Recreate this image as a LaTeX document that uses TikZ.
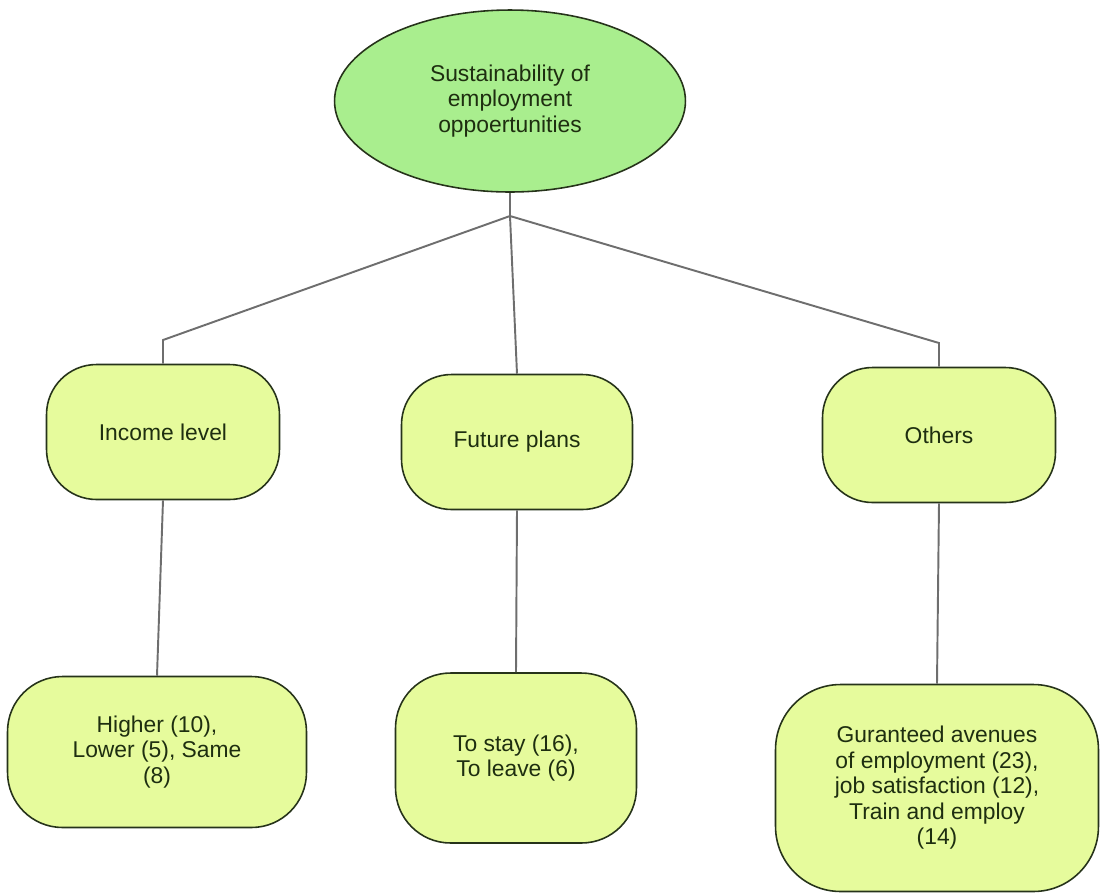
\documentclass[tikz,border=0pt]{standalone}
\usepackage{fontspec}
\setmainfont{Liberation Sans}
\usepackage{xcolor}
\usepackage{tikz}
\usetikzlibrary{shapes.geometric}

\definecolor{topgreen}{HTML}{A9EE8E}
\definecolor{boxlime}{HTML}{E6FB9C}
\definecolor{edgedark}{HTML}{26331A}
\definecolor{textdark}{HTML}{1E2E10}
\definecolor{linkgray}{HTML}{6E6E6E}

\begin{document}
\begin{tikzpicture}[
    x=0.02cm,
    y=-0.02cm,
    every node/.style={
        font=\fontsize{13}{14.5}\selectfont,
        align=center,
        text=textdark
    },
    topic/.style={
        ellipse,
        draw=edgedark,
        fill=topgreen,
        line width=0.9pt,
        minimum width=7.02cm,
        minimum height=3.64cm,
        inner sep=0pt
    },
    branch/.style={
        rectangle,
        draw=edgedark,
        fill=boxlime,
        line width=0.9pt,
        rounded corners=1cm,
        minimum width=4.66cm,
        minimum height=2.7cm,
        inner sep=2pt
    },
    link/.style={
        draw=linkgray,
        line width=1.1pt
    }
]

\useasboundingbox (0,0) rectangle (1100,894);

\node[topic] (sustain) at (510,101)
    {Sustainability of\\
    employment\\
    oppoertunities};

\node[branch] (income) at (163,432) {Income level};
\node[branch, minimum width=4.62cm] (future) at (517,442) {Future plans};
\node[branch] (others) at (939,435) {Others};

\node[branch, rounded corners=1.1cm, minimum width=5.98cm, minimum height=3.02cm] (incomeval) at (157,752)
    {Higher (10),\\
    Lower (5), Same\\
    (8)};

\node[branch, rounded corners=1.1cm, minimum width=4.82cm, minimum height=3.4cm] (futureval) at (516,758)
    {To stay (16),\\
    To leave (6)};

\node[branch, rounded corners=1.3cm, minimum width=6.46cm, minimum height=4.14cm] (othersval) at (937,788)
    {Guranteed avenues\\
    of employment (23),\\
    job satisfaction (12),\\
    Train and employ\\
    (14)};

\coordinate (split) at (510,216);
\coordinate (leftbend) at (163,340);
\coordinate (rightbend) at (939,343);

\draw[link] (sustain.south) -- (split);
\draw[link] (split) -- (leftbend) -- (income.north);
\draw[link] (split) -- (future.north);
\draw[link] (split) -- (rightbend) -- (others.north);

\draw[link] (income.south) -- (incomeval.north);
\draw[link] (future.south) -- (futureval.north);
\draw[link] (others.south) -- (othersval.north);

\end{tikzpicture}
\end{document}
